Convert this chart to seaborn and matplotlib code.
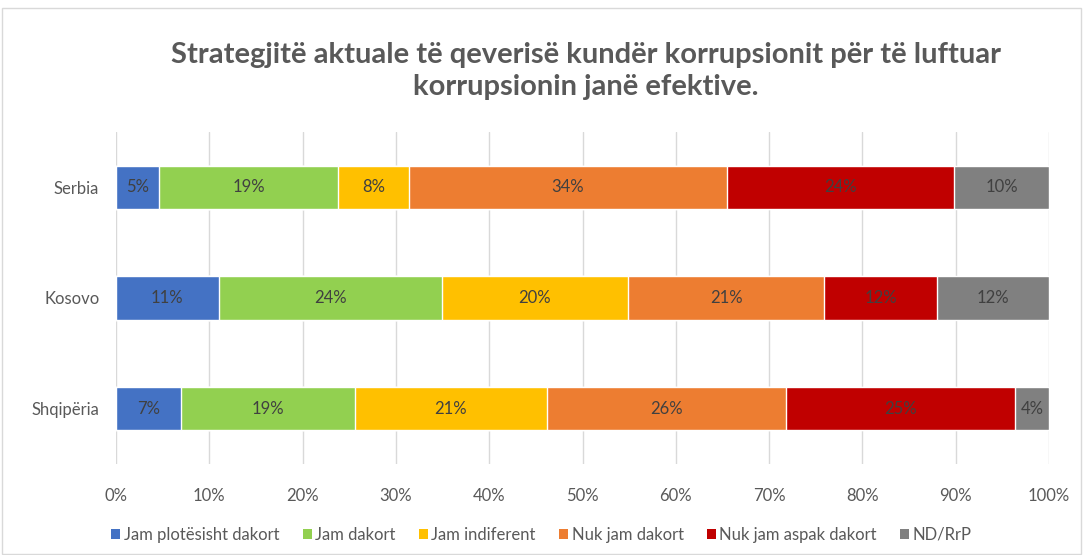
import numpy as np
import pandas as pd
import seaborn as sns
import matplotlib.pyplot as plt
from matplotlib.patches import Patch, Rectangle

countries = ["Serbia", "Kosovo", "Shqipëria"]
answers = ["Jam plotësisht dakort", "Jam dakort", "Jam indiferent",
           "Nuk jam dakort", "Nuk jam aspak dakort", "ND/RrP"]
# percent per answer, one list per answer (order: Serbia, Kosovo, Shqipëria)
plotesisht = [4.6, 11.0, 7.0]
dakort = [19.2, 23.9, 18.6]
indiferent = [7.6, 20.0, 20.6]
nuk_dakort = [34.1, 21.0, 25.6]
aspak = [24.3, 12.1, 24.6]
nd_rrp = [10.2, 12.0, 3.6]
colors = ["#4472C4", "#92D050", "#FFC000", "#ED7D31", "#C00000", "#808080"]
ticks = [0, 10, 20, 30, 40, 50, 60, 70, 80, 90, 100]

values = [plotesisht, dakort, indiferent, nuk_dakort, aspak, nd_rrp]
df = pd.DataFrame(dict(zip(answers, values)), index=countries)
cum = df.cumsum(axis=1)

sns.set_style("white")
plt.rcParams["font.family"] = ["Lato", "DejaVu Sans"]

fig = plt.figure(figsize=(10.83, 5.55), dpi=100)
ax = fig.add_axes([116 / 1083, 1 - 464 / 555, 933 / 1083, 332 / 555])

# draw the cumulative bars from the last answer back to the first
for ans, col in reversed(list(zip(answers, colors))):
    sns.barplot(x=cum[ans].values, y=countries, color=col, orient="h",
                width=0.39, saturation=1, ax=ax, zorder=2)

for ans in answers:
    for i, c in enumerate(countries):
        v = df.loc[c, ans]
        ax.text(cum.loc[c, ans] - v / 2, i, f"{v:.0f}%", ha="center", va="center",
                fontsize=12, color="#404040", zorder=3)

ax.set_xlim(0, 100)
ax.set_ylim(2.5, -0.5)
ax.set_xticks(ticks)
ax.set_xticklabels([f"{t}%" for t in ticks])
ax.grid(axis="x", color="#D9D9D9", linewidth=1, zorder=0)
ax.set_axisbelow(True)
for s in ax.spines.values():
    s.set_visible(False)
ax.tick_params(axis="both", length=0, labelsize=12, labelcolor="#595959")
ax.tick_params(axis="x", pad=17)
ax.tick_params(axis="y", pad=12)
ax.set_xlabel("")
ax.set_ylabel("")

fig.text(0.541, 0.872, "Strategjitë aktuale të qeverisë kundër korrupsionit për të luftuar\nkorrupsionin janë efektive.",
         ha="center", va="center", fontsize=21, fontweight="bold", color="#595959", linespacing=1.3)

handles = [Patch(facecolor=c, edgecolor="none") for c in colors]
fig.legend(handles, answers, loc="center", bbox_to_anchor=(0.5, 1 - 535 / 555), ncol=6,
           frameon=False, fontsize=12, labelcolor="#595959", handlelength=0.55,
           handleheight=0.55, handletextpad=0.2, columnspacing=1.4)

fig.patches.append(Rectangle((0.002, 0.002), 0.996, 0.984, transform=fig.transFigure,
                             fill=False, edgecolor="#D9D9D9", linewidth=1))

fig.savefig("out.png", dpi=100)
